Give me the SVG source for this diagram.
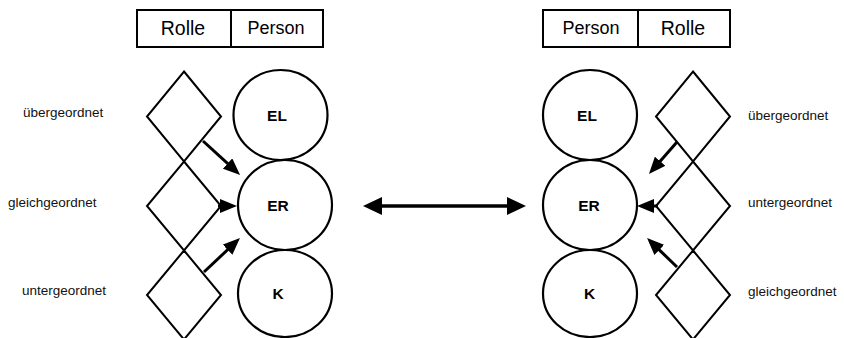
<svg xmlns="http://www.w3.org/2000/svg" width="844" height="338" viewBox="0 0 844 338">
  <style>
    .box { fill: #fff; stroke: #000; stroke-width: 2; }
    .hdr { font-family: "Liberation Sans", Arial, sans-serif; fill: #000; text-anchor: middle; }
    .role { fill: none; stroke: #000; stroke-width: 2; stroke-linejoin: miter; }
    .person { fill: #fff; stroke: #000; stroke-width: 2.2; }
    .pname { font-family: "Liberation Sans", Arial, sans-serif; font-weight: bold; font-size: 15.5px; text-anchor: middle; fill: #000; }
    .lbl { font-family: "Liberation Sans", Arial, sans-serif; font-size: 13.5px; fill: #111; }
    .arr { stroke: #000; stroke-width: 3; fill: none; marker-end: url(#head); }
    .big { stroke: #000; stroke-width: 3.5; fill: none; marker-start: url(#bighead); marker-end: url(#bighead); }
  </style>
  <defs>
    <marker id="head" markerUnits="userSpaceOnUse" markerWidth="17" markerHeight="14" refX="4" refY="7" orient="auto">
      <path d="M0,0 L17,7 L0,14 z" fill="#000"/>
    </marker>
    <marker id="bighead" markerUnits="userSpaceOnUse" markerWidth="19" markerHeight="18" refX="4" refY="9" orient="auto-start-reverse">
      <path d="M0,0 L19,9 L0,18 z" fill="#000"/>
    </marker>
  </defs>

  <!-- left side header -->
  <g id="header-left">
    <rect class="box" x="137" y="10" width="186" height="37"/>
    <line x1="231" y1="10" x2="231" y2="47" stroke="#000" stroke-width="2"/>
    <text class="hdr" x="183" y="35" font-size="19.5">Rolle</text>
    <text class="hdr" x="276" y="33.5" font-size="18">Person</text>
  </g>

  <!-- right side header -->
  <g id="header-right">
    <rect class="box" x="543" y="10" width="187" height="37"/>
    <line x1="638" y1="10" x2="638" y2="47" stroke="#000" stroke-width="2"/>
    <text class="hdr" x="591" y="33.5" font-size="18">Person</text>
    <text class="hdr" x="683" y="35" font-size="19.5">Rolle</text>
  </g>

  <!-- left roles -->
  <g id="role-left-1"><path class="role" d="M184,71.5 L221,116.5 L184,161.5 L147,116.5 Z"/></g>
  <g id="role-left-2"><path class="role" d="M184,161.5 L221,206 L184,250.5 L147,206 Z"/></g>
  <g id="role-left-3"><path class="role" d="M184,250.5 L221,295 L184,339.5 L147,295 Z"/></g>

  <!-- left persons -->
  <g id="person-left-EL"><ellipse class="person" cx="280.5" cy="115" rx="47" ry="45"/><text class="pname" x="277" y="121">EL</text></g>
  <g id="person-left-ER"><ellipse class="person" cx="285" cy="205" rx="47" ry="45"/><text class="pname" x="278" y="211">ER</text></g>
  <g id="person-left-K"><ellipse class="person" cx="285" cy="293.5" rx="47" ry="43.5"/><text class="pname" x="278" y="299">K</text></g>

  <!-- right roles -->
  <g id="role-right-1"><path class="role" d="M693,71.5 L730,116.5 L693,161.5 L656,116.5 Z"/></g>
  <g id="role-right-2"><path class="role" d="M693,161.5 L730,206 L693,250.5 L656,206 Z"/></g>
  <g id="role-right-3"><path class="role" d="M693,250.5 L730,295 L693,339.5 L656,295 Z"/></g>

  <!-- right persons -->
  <g id="person-right-EL"><ellipse class="person" cx="590" cy="115" rx="47" ry="45"/><text class="pname" x="587" y="121">EL</text></g>
  <g id="person-right-ER"><ellipse class="person" cx="590" cy="205" rx="47" ry="45"/><text class="pname" x="589" y="211">ER</text></g>
  <g id="person-right-K"><ellipse class="person" cx="590" cy="293.5" rx="47" ry="43.5"/><text class="pname" x="589.5" y="299">K</text></g>

  <!-- role labels -->
  <g id="labels-left">
    <text class="lbl" x="23" y="116.5">übergeordnet</text>
    <text class="lbl" x="8" y="206.5">gleichgeordnet</text>
    <text class="lbl" x="22" y="295">untergeordnet</text>
  </g>
  <g id="labels-right">
    <text class="lbl" x="748" y="120">übergeordnet</text>
    <text class="lbl" x="748" y="207">untergeordnet</text>
    <text class="lbl" x="748" y="295.5">gleichgeordnet</text>
  </g>

  <!-- connectors -->
  <g id="connectors">
    <line class="arr" x1="203" y1="141" x2="230.5" y2="166.2"/>
    <line class="arr" x1="218" y1="206" x2="224" y2="206"/>
    <line class="arr" x1="204" y1="272" x2="230.5" y2="247"/>
    <line class="arr" x1="677" y1="142" x2="657.5" y2="164.3"/>
    <line class="arr" x1="658" y1="206" x2="650" y2="206"/>
    <line class="arr" x1="677" y1="267" x2="656.4" y2="247.1"/>
    <line class="big" x1="378" y1="206" x2="511" y2="206"/>
  </g>
</svg>
